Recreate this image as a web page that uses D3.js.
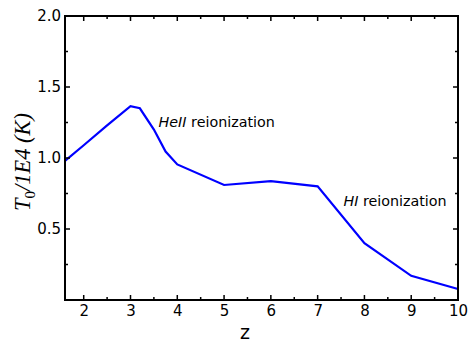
<!DOCTYPE html>
<html>
<head>
<meta charset="utf-8">
<script src="https://cdn.jsdelivr.net/npm/d3@7"></script>
<style>
  html, body { margin: 0; padding: 0; background: #fff; }
  svg { display: block; }
</style>
</head>
<body>
<svg id="chart" width="468" height="345"></svg>
<script>
// Redshift samples and IGM temperature at mean density (units of 1e4 K)
const redshift = [1.6, 2.0, 2.5, 3.0, 3.2, 3.5, 3.75, 4.0, 5.0, 6.0, 7.0, 8.0, 9.0, 10.0];
const temperature = [0.98, 1.09, 1.23, 1.365, 1.35, 1.20, 1.045, 0.955, 0.81, 0.837, 0.80, 0.40, 0.17, 0.077];

const xMajorTicks = [2, 3, 4, 5, 6, 7, 8, 9, 10];
const xMinorTicks = [2.5, 3.5, 4.5, 5.5, 6.5, 7.5, 8.5, 9.5];
const yMajorTicks = [0.5, 1.0, 1.5, 2.0];
const yMinorTicks = [0.25, 0.75, 1.25, 1.75];

const annotations = [
  { z: 3.6, t: 1.215, species: "HeII", text: " reionization" },
  { z: 7.55, t: 0.665, species: "HI", text: " reionization" }
];

const margin = { left: 65, right: 10, top: 16, bottom: 45 };
const W = 468, H = 345;
const svg = d3.select("#chart");

const x = d3.scaleLinear().domain([1.6, 10]).range([margin.left, W - margin.right]);
const y = d3.scaleLinear().domain([0, 2]).range([H - margin.bottom, margin.top]);

const x0 = x.range()[0], x1 = x.range()[1];
const y0 = y.range()[0], y1 = y.range()[1];

// Data line
const line = d3.line().x((d, i) => x(redshift[i])).y(d => y(d));
svg.append("path")
  .datum(temperature)
  .attr("d", line)
  .attr("fill", "none")
  .attr("stroke", "#0000ff")
  .attr("stroke-width", 2.2)
  .attr("stroke-linejoin", "miter");

// Frame
svg.append("rect")
  .attr("x", x0).attr("y", y1)
  .attr("width", x1 - x0).attr("height", y0 - y1)
  .attr("fill", "none").attr("stroke", "#000").attr("stroke-width", 2);

// Tick labels
function styleLabels(g) {
  g.select(".domain").remove();
  g.selectAll(".tick line").remove();
  g.selectAll(".tick text")
    .attr("font-family", "DejaVu Sans, sans-serif")
    .attr("font-size", 15)
    .attr("fill", "#000");
}
svg.append("g").attr("transform", `translate(0,${y0})`)
  .call(d3.axisBottom(x).tickValues(xMajorTicks).tickSize(0).tickPadding(5).tickFormat(d3.format("d")))
  .call(styleLabels);
svg.append("g").attr("transform", `translate(${x0},0)`)
  .call(d3.axisLeft(y).tickValues(yMajorTicks).tickSize(0).tickPadding(4).tickFormat(d3.format(".1f")))
  .call(styleLabels);

// Inward tick marks on all four sides, collected into one path
const tp = d3.path();
[[xMajorTicks, 5], [xMinorTicks, 3]].forEach(([vals, len]) => {
  vals.forEach(v => {
    const px = x(v);
    tp.moveTo(px, y0); tp.lineTo(px, y0 - len);
    tp.moveTo(px, y1); tp.lineTo(px, y1 + len);
  });
});
[[yMajorTicks, 5], [yMinorTicks, 3]].forEach(([vals, len]) => {
  vals.forEach(v => {
    const py = y(v);
    tp.moveTo(x0, py); tp.lineTo(x0 + len, py);
    tp.moveTo(x1, py); tp.lineTo(x1 - len, py);
  });
});
svg.append("path")
  .attr("d", tp.toString())
  .attr("fill", "none")
  .attr("stroke", "#000")
  .attr("stroke-width", 1.5);

// Annotations
annotations.forEach(a => {
  const t = svg.append("text")
    .attr("x", x(a.z)).attr("y", y(a.t))
    .attr("font-family", "DejaVu Sans, sans-serif")
    .attr("font-size", 14.3)
    .attr("fill", "#000");
  t.append("tspan").attr("font-style", "italic").text(a.species);
  t.append("tspan").text(a.text);
});

// Axis titles
svg.append("text")
  .attr("x", 245).attr("y", 339)
  .attr("text-anchor", "middle")
  .attr("font-family", "DejaVu Sans, sans-serif")
  .attr("font-size", 19)
  .text("z");

const yl = svg.append("text")
  .attr("transform", `translate(30,${(y0 + y1) / 2 + 4}) rotate(-90)`)
  .attr("text-anchor", "middle")
  .attr("font-family", "Liberation Serif, serif")
  .attr("font-style", "italic")
  .attr("font-size", 22.5);
yl.append("tspan").text("T");
yl.append("tspan").attr("font-style", "normal").attr("font-size", 15).attr("dy", 5).text("0");
yl.append("tspan").attr("dy", -5).text("/1E4 (K)");
</script>
</body>
</html>
